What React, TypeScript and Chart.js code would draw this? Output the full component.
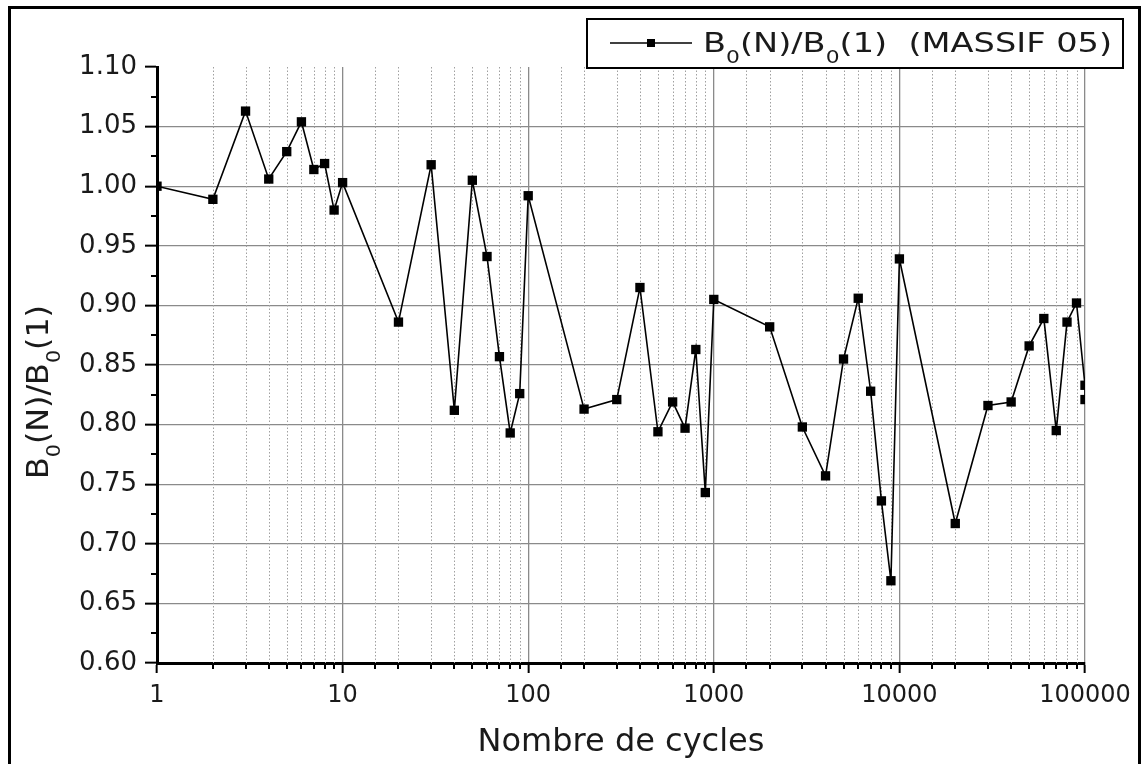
import React, { useEffect, useRef } from 'react';
import { Chart, registerables } from 'chart.js';

Chart.register(...registerables);

// ---- data ----
const cycles = [
  1, 2, 3, 4, 5, 6, 7, 8, 9, 10,
  20, 30, 40, 50, 60, 70, 80, 90, 100,
  200, 300, 400, 500, 600, 700, 800, 900, 1000,
  2000, 3000, 4000, 5000, 6000, 7000, 8000, 9000, 10000,
  20000, 30000, 40000, 50000, 60000, 70000, 80000, 90000, 100000, 100000,
];
const ratio = [
  1.000, 0.989, 1.063, 1.006, 1.029, 1.054, 1.014, 1.019, 0.980, 1.003,
  0.886, 1.018, 0.812, 1.005, 0.941, 0.857, 0.793, 0.826, 0.992,
  0.813, 0.821, 0.915, 0.794, 0.819, 0.797, 0.863, 0.743, 0.905,
  0.882, 0.798, 0.757, 0.855, 0.906, 0.828, 0.736, 0.669, 0.939,
  0.717, 0.816, 0.819, 0.866, 0.889, 0.795, 0.886, 0.902, 0.833, 0.821,
];
const xTickLabels = ['1', '10', '100', '1000', '10000', '100000'];
const yTickLabels = ['0.60', '0.65', '0.70', '0.75', '0.80', '0.85', '0.90', '0.95', '1.00', '1.05', '1.10'];
const X_TITLE = 'Nombre de cycles';
// rich text: [text, isSubscript]
const Y_TITLE: [string, boolean][] = [['B', false], ['0', true], ['(N)/B', false], ['0', true], ['(1)', false]];
const LEGEND_LABEL: [string, boolean][] = [['B', false], ['0', true], ['(N)/B', false], ['0', true], ['(1)  (MASSIF 05)', false]];

const FONT = '"DejaVu Sans", "Liberation Sans", Arial, sans-serif';
const TEXT_COLOR = '#1a1a1a';

const isDecade = (v: number) => {
  const l = Math.log10(v);
  return Math.abs(l - Math.round(l)) < 1e-9;
};
const isMajorY = (v: number) => Math.abs(v / 0.05 - Math.round(v / 0.05)) < 1e-6;

function drawRich(
  ctx: CanvasRenderingContext2D,
  parts: [string, boolean][],
  size: number,
  targetWidth: number | null,
  align: 'left' | 'center'
) {
  const subSize = size * 0.65;
  const mainFont = `${size}px ${FONT}`;
  const subFont = `${subSize}px ${FONT}`;
  let w = 0;
  for (const [t, sub] of parts) {
    ctx.font = sub ? subFont : mainFont;
    w += ctx.measureText(t).width;
  }
  const sx = targetWidth ? targetWidth / w : 1;
  ctx.save();
  ctx.scale(sx, 1);
  ctx.textBaseline = 'alphabetic';
  ctx.textAlign = 'left';
  let cx = align === 'center' ? -w / 2 : 0;
  for (const [t, sub] of parts) {
    ctx.font = sub ? subFont : mainFont;
    ctx.fillText(t, cx, sub ? size * 0.4 : 0);
    cx += ctx.measureText(t).width;
  }
  ctx.restore();
}

const decorPlugin = {
  id: 'decor',
  beforeDatasetsDraw(chart: any) {
    const { ctx, chartArea, scales } = chart;
    const x = scales.x;
    ctx.save();
    ctx.strokeStyle = '#a0a0a0';
    ctx.lineWidth = 1;
    ctx.setLineDash([1.5, 2]);
    for (const t of x.ticks) {
      if (isDecade(t.value)) continue;
      const px = Math.round(x.getPixelForValue(t.value)) + 0.5;
      ctx.beginPath();
      ctx.moveTo(px, chartArea.top);
      ctx.lineTo(px, chartArea.bottom);
      ctx.stroke();
    }
    ctx.restore();
  },
  afterDraw(chart: any) {
    const { ctx, chartArea, scales } = chart;
    const x = scales.x;
    const y = scales.y;
    ctx.save();
    // minor ticks
    ctx.strokeStyle = '#000';
    ctx.lineWidth = 2;
    for (const t of x.ticks) {
      if (isDecade(t.value)) continue;
      const px = Math.round(x.getPixelForValue(t.value));
      ctx.beginPath();
      ctx.moveTo(px, chartArea.bottom);
      ctx.lineTo(px, chartArea.bottom + 6);
      ctx.stroke();
    }
    for (const t of y.ticks) {
      if (isMajorY(t.value)) continue;
      const py = Math.round(y.getPixelForValue(t.value));
      ctx.beginPath();
      ctx.moveTo(chartArea.left - 6, py);
      ctx.lineTo(chartArea.left, py);
      ctx.stroke();
    }

    // outer frame
    ctx.lineWidth = 3;
    ctx.strokeStyle = '#000';
    ctx.strokeRect(9.5, 7.5, 1130, 800);

    // legend box
    const lx = 587, ly = 19, lw = 536, lh = 49;
    ctx.fillStyle = '#fff';
    ctx.fillRect(lx, ly, lw, lh);
    ctx.lineWidth = 2;
    ctx.strokeRect(lx, ly, lw, lh);
    ctx.lineWidth = 1.5;
    ctx.beginPath();
    ctx.moveTo(610, 43);
    ctx.lineTo(692, 43);
    ctx.stroke();
    ctx.fillStyle = '#000';
    ctx.fillRect(651 - 4, 43 - 4, 8, 8);
    ctx.fillStyle = TEXT_COLOR;
    ctx.save();
    ctx.translate(703, 52);
    drawRich(ctx, LEGEND_LABEL, 27, 409, 'left');
    ctx.restore();

    // y-axis title (rotated)
    ctx.save();
    ctx.translate(48, 392);
    ctx.rotate(-Math.PI / 2);
    ctx.fillStyle = TEXT_COLOR;
    drawRich(ctx, Y_TITLE, 30, 174, 'center');
    ctx.restore();

    ctx.restore();
  },
};

export default function App() {
  const canvasRef = useRef<HTMLCanvasElement | null>(null);

  useEffect(() => {
    if (!canvasRef.current) return;
    const chart = new Chart(canvasRef.current, {
      type: 'line',
      data: {
        datasets: [
          {
            label: 'B0(N)/B0(1)  (MASSIF 05)',
            data: cycles.map((c, i) => ({ x: c, y: ratio[i] })),
            borderColor: '#000',
            borderWidth: 1.6,
            pointStyle: 'rect',
            pointRadius: 6.6,
            pointBackgroundColor: '#000',
            pointBorderColor: '#000',
            pointBorderWidth: 0,
            tension: 0,
            fill: false,
          },
        ],
      },
      options: {
        responsive: true,
        maintainAspectRatio: false,
        animation: false,
        events: [],
        layout: { padding: { left: 0, top: 67, right: 61, bottom: 0 } },
        plugins: {
          legend: { display: false },
          tooltip: { enabled: false },
        },
        scales: {
          x: {
            type: 'logarithmic',
            min: 1,
            max: 100000,
            afterFit: (s: any) => {
              s.height = 101;
            },
            border: { display: true, color: '#000', width: 3 },
            grid: {
              color: (c: any) => (c.tick && isDecade(c.tick.value) ? '#8a8a8a' : 'transparent'),
              lineWidth: 1.3,
              drawTicks: true,
              tickLength: 10,
              tickWidth: 2,
              tickColor: (c: any) => (c.tick && isDecade(c.tick.value) ? '#000' : 'transparent'),
            },
            ticks: {
              autoSkip: false,
              maxRotation: 0,
              minRotation: 0,
              padding: 8,
              color: TEXT_COLOR,
              font: { family: FONT, size: 24 },
              callback: (v: any) => {
                const n = Number(v);
                if (!isDecade(n)) return '';
                const idx = Math.round(Math.log10(n));
                return xTickLabels[idx] ?? '';
              },
            },
            title: {
              display: true,
              text: X_TITLE,
              color: TEXT_COLOR,
              font: { family: FONT, size: 32 },
              padding: { top: 0, bottom: 2 },
            },
          },
          y: {
            type: 'linear',
            min: 0.6,
            max: 1.1,
            afterFit: (s: any) => {
              s.width = 157;
            },
            border: { display: true, color: '#000', width: 3 },
            grid: {
              color: (c: any) =>
                c.tick && isMajorY(c.tick.value) && c.tick.value < 1.09 ? '#8a8a8a' : 'transparent',
              lineWidth: 1.3,
              drawTicks: true,
              tickLength: 12,
              tickWidth: 2,
              tickColor: (c: any) => (c.tick && isMajorY(c.tick.value) ? '#000' : 'transparent'),
            },
            ticks: {
              stepSize: 0.025,
              autoSkip: false,
              padding: 8,
              color: TEXT_COLOR,
              font: { family: FONT, size: 26 },
              callback: (v: any) => {
                const n = Number(v);
                if (!isMajorY(n)) return '';
                const idx = Math.round((n - 0.6) / 0.05);
                return yTickLabels[idx] ?? '';
              },
            },
          },
        },
      },
      plugins: [decorPlugin],
    });
    return () => chart.destroy();
  }, []);

  return (
    <div style={{ position: 'fixed', left: 0, top: 0, width: 1146, height: 764, background: '#fff' }}>
      <canvas ref={canvasRef} />
    </div>
  );
}
